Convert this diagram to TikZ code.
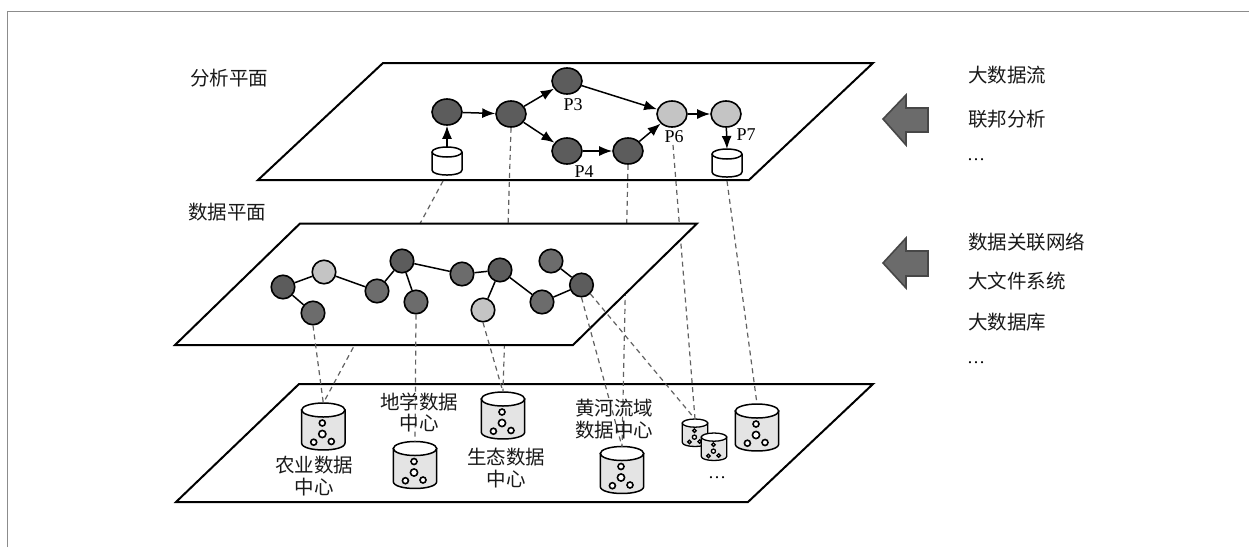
\documentclass[tikz,border=0pt]{standalone}
\usepackage{fontspec}
\setmainfont{Liberation Serif}
\newfontfamily\cjk{Noto Sans CJK SC}
\usetikzlibrary{arrows.meta,shapes.geometric}
\tikzset{
  x=1pt,y=-1pt,
  plane/.style={draw=black,line width=2pt,fill=white,line join=miter},
  frameline/.style={draw=black!45,line width=1.3pt},
  flownode/.style={ellipse,draw=black,line width=1.6pt,minimum width=30pt,minimum height=26pt,inner sep=0pt,fill=#1},
  datanode/.style={circle,draw=black,line width=1.6pt,minimum size=23.5pt,inner sep=0pt,fill=#1},
  flow/.style={draw=black,line width=1.5pt,-{Latex[length=13pt,width=10pt]}},
  link/.style={draw=black,line width=1.5pt},
  tie/.style={draw=black!62,line width=1.2pt,dash pattern=on 5pt off 4pt},
  lbl/.style={font=\cjk\fontsize{19.5}{21.5}\selectfont,inner sep=0pt,align=center,text=black!90},
  tag/.style={font=\fontsize{18}{20}\selectfont,inner sep=0pt},
  dots/.style={font=\fontsize{18}{20}\selectfont,inner sep=0pt},
  bigarrow/.style={draw=black!72,fill=black!58,line width=1.6pt,line join=miter},
}
\definecolor{dk}{HTML}{5C5C5C}
\definecolor{md}{HTML}{6C6C6C}
\definecolor{lt}{HTML}{C4C4C4}
\definecolor{cy}{HTML}{E4E4E4}
\newcommand{\plaincyl}[4]{%
  \draw[draw=black,line width=1.5pt,fill=white] (#1-15,#2+5) -- (#1-15,#3-5) .. controls (#1-15,#3+1.7) and (#1+15,#3+1.7) .. (#1+15,#3-5) -- (#1+15,#2+5);
  \draw[draw=black,line width=1.5pt,fill=white] (#1,#2+5) ellipse[x radius=15,y radius=5];
  \coordinate (#4) at (#1,#3);
}
\newcommand{\datacyl}[6]{%
  \begin{scope}[shift={(#1,#2)},scale=#4]
    \draw[draw=black,line width=#6pt,fill=cy] (-21.7,7) -- (-21.7,40) .. controls (-21.7,49.3) and (21.7,49.3) .. (21.7,40) -- (21.7,7) -- cycle;
    \draw[draw=black,line width=#6pt,fill=white] (0,7) ellipse[x radius=21.7,y radius=7];
    \foreach \px/\py/\pr in {-1/20/3,-1/31/3.6,-9.6/39.2/3,8/38.5/3}{
      \draw[draw=black,line width=#5pt,fill=white] (\px,\py) circle[radius=\pr];
    }
  \end{scope}%
  \coordinate (#3) at (#1,#2);
}
\begin{document}
\begin{tikzpicture}
\useasboundingbox (0,0) rectangle (1249,547);
\fill[white] (0,0) rectangle (1249,547);
% frame
\coordinate (fa) at (7.5,547);
\coordinate (fb) at (7.5,11.5);
\coordinate (fc) at (1249,11.5);
\draw[frameline] (fa) -- (fb) -- (fc);

% bottom plane
\draw[plane] (299,384) -- (873,384) -- (748,502) -- (176,502) -- cycle;

% cylinders of the bottom plane
\datacyl{323.3}{403}{cA}{1}{1.6}{1.5}
\datacyl{415}{441.5}{cB}{1}{1.6}{1.5}
\datacyl{503}{392}{cC}{1}{1.6}{1.5}
\datacyl{622}{446.5}{cD}{1}{1.6}{1.5}
\datacyl{757}{404}{cE}{1}{1.6}{1.5}
\datacyl{695}{419}{cF}{0.585}{1.3}{1.3}
\datacyl{714}{433}{cG}{0.585}{1.3}{1.3}

% analysis plane
\draw[plane] (383,63) -- (873,63) -- (749,180) -- (258,180) -- cycle;
\plaincyl{447}{147}{175}{pA}
\plaincyl{727}{149}{177}{pB}
\coordinate (pAtop) at (447,147);
\coordinate (pBtop) at (727,149);
\coordinate (pAfoot) at (443,181);
\coordinate (pBfoot) at (727,181);
\node[flownode=dk] (n1) at (447,112) {};
\node[flownode=dk] (n2) at (511,114) {};
\node[flownode=dk] (n3) at (567,81) {};
\node[flownode=dk] (n4) at (567,151) {};
\node[flownode=dk] (n5) at (628,151) {};
\node[flownode=lt] (n6) at (672,114) {};
\node[flownode=lt] (n7) at (726,114) {};
\coordinate (n6foot) at (673,145);

% dashed ties that pass behind the data plane
\draw[tie] (pAfoot) -- (cA);
\draw[tie] (n2.south) -- (cC);
\draw[tie] (n5.south) -- (cD);
\draw[tie] (n6foot) -- (cF);
\draw[tie] (pBfoot) -- (cE);

% data plane
\draw[plane] (300,223.5) -- (697,223.5) -- (573,345) -- (175,345) -- cycle;
\node[datanode=dk] (d1) at (283,287) {};
\node[datanode=md] (d2) at (313,313) {};
\node[datanode=lt] (d3) at (324,272) {};
\node[datanode=md] (d4) at (377,291) {};
\node[datanode=dk] (d5) at (402,261) {};
\node[datanode=md] (d6) at (416,302) {};
\node[datanode=md] (d7) at (462,274) {};
\node[datanode=dk] (d8) at (500,270) {};
\node[datanode=lt] (d9) at (483,310) {};
\node[datanode=md] (d10) at (542,302) {};
\node[datanode=dk] (d11) at (581.5,285) {};
\node[datanode=md] (d12) at (551,261) {};
\foreach \a/\b in {d1/d3,d1/d2,d3/d4,d4/d5,d5/d6,d5/d7,d7/d8,d8/d9,d8/d10,d10/d11,d11/d12}{
  \draw[link] (\a) -- (\b);
}
% dashed ties from the data plane
\draw[tie] (d2.south) -- (cA);
\draw[tie] (d6.south) -- (cB);
\draw[tie] (d9.south) -- (cC);
\draw[tie] (d11.south) -- (cD);
\draw[tie] (d11.south east) -- (cF);

% flow arrows
\draw[flow] (pAtop) -- (n1);
\draw[flow] (n1) -- (n2);
\draw[flow] (n2) -- (n3);
\draw[flow] (n2) -- (n4);
\draw[flow] (n3) -- (n6);
\draw[flow] (n4) -- (n5);
\draw[flow] (n5) -- (n6);
\draw[flow] (n6) -- (n7);
\draw[flow] (n7) -- (pBtop);

% labels
\node[tag] (p3) at (573,105) {P3};
\node[tag] (p4) at (584,172) {P4};
\node[tag] (p6) at (674,137) {P6};
\node[tag] (p7) at (746,135) {P7};
\node[lbl] (t1) at (229,78) {分析平面};
\node[lbl] (t2) at (227,212) {数据平面};
\node[lbl] (t3) at (314,476) {农业数据\\中心};
\node[lbl] (t4) at (419,412.5) {地学数据\\中心};
\node[lbl] (t5) at (506,468) {生态数据\\中心};
\node[lbl] (t6) at (614,419) {黄河流域\\数据中心};
\node[dots] (t7) at (717,478) {\dots};

% right column
\node[lbl,anchor=west] (r1) at (968,75) {大数据流};
\node[lbl,anchor=west] (r2) at (968,119) {联邦分析};
\node[dots,anchor=west] (r3) at (967,160) {\dots};
\node[lbl,anchor=west] (r4) at (968,242) {数据关联网络};
\node[lbl,anchor=west] (r5) at (968,281) {大文件系统};
\node[lbl,anchor=west] (r6) at (968,322) {大数据库};
\node[dots,anchor=west] (r7) at (967,363) {\dots};

% block arrows
\draw[bigarrow] (883,119) -- (906,95) -- (906,108) -- (928,108) -- (928,132) -- (906,132) -- (906,145) -- cycle;
\draw[bigarrow] (883,263) -- (906,238) -- (906,251) -- (928,251) -- (928,276) -- (906,276) -- (906,288) -- cycle;
\end{tikzpicture}
\end{document}
